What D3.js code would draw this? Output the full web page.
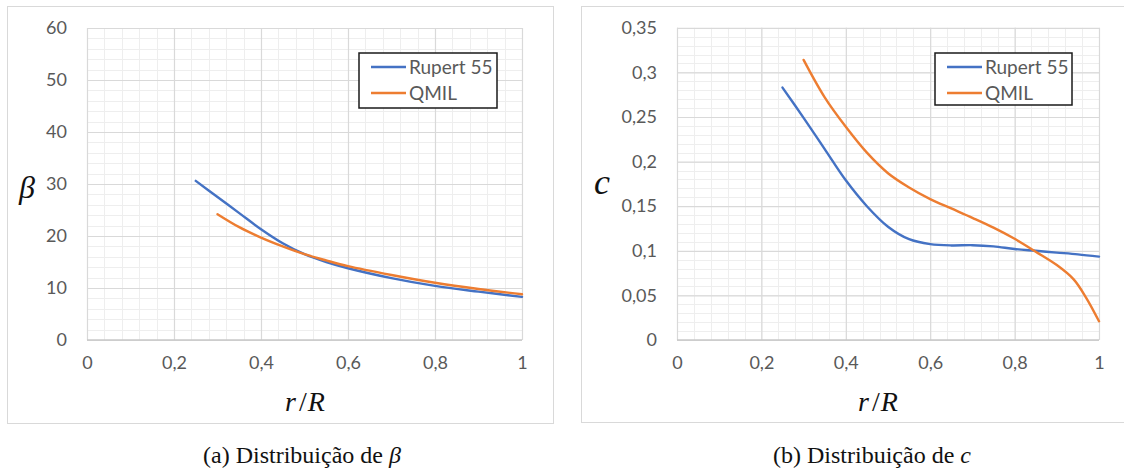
<!DOCTYPE html>
<html><head><meta charset="utf-8">
<script src="https://cdn.jsdelivr.net/npm/d3@7"></script>
<style>html,body{margin:0;padding:0;background:#fff;}svg{display:block;}</style>
</head><body>
<svg id="c" width="1124" height="473"></svg>
<script>
// ---- data ----
const xTicks = [0, 0.2, 0.4, 0.6, 0.8, 1];
const xTickLabels = ["0", "0,2", "0,4", "0,6", "0,8", "1"];
const betaTicks = [0, 10, 20, 30, 40, 50, 60];
const betaTickLabels = ["0", "10", "20", "30", "40", "50", "60"];
const cTicks = [0, 0.05, 0.1, 0.15, 0.2, 0.25, 0.3, 0.35];
const cTickLabels = ["0", "0,05", "0,1", "0,15", "0,2", "0,25", "0,3", "0,35"];
const seriesNames = ["Rupert 55", "QMIL"];

const betaRupertR = [0.25, 0.3, 0.35, 0.4, 0.45, 0.5, 0.55, 0.6, 0.7, 0.8, 0.9, 1.0];
const betaRupert  = [30.6, 27.5, 24.4, 21.3, 18.6, 16.5, 15.0, 13.8, 11.9, 10.4, 9.3, 8.3];
const betaQmilR   = [0.3, 0.35, 0.4, 0.45, 0.5, 0.55, 0.6, 0.7, 0.8, 0.9, 1.0];
const betaQmil    = [24.2, 21.7, 19.7, 18.0, 16.5, 15.3, 14.2, 12.5, 11.0, 9.8, 8.8];

const cRupertR = [0.25, 0.3, 0.35, 0.4, 0.45, 0.5, 0.55, 0.6, 0.65, 0.7, 0.75, 0.8, 0.85, 0.9, 0.95, 1.0];
const cRupert  = [0.283, 0.249, 0.214, 0.179, 0.150, 0.127, 0.113, 0.1075, 0.106, 0.1063, 0.105, 0.102, 0.100, 0.098, 0.096, 0.0935];
const cQmilR   = [0.3, 0.35, 0.4, 0.45, 0.5, 0.55, 0.6, 0.65, 0.7, 0.75, 0.8, 0.85, 0.9, 0.94, 0.97, 1.0];
const cQmil    = [0.314, 0.272, 0.239, 0.210, 0.187, 0.171, 0.158, 0.1475, 0.137, 0.126, 0.1135, 0.099, 0.084, 0.068, 0.047, 0.021];

const colors = ["#4472C4", "#ED7D31"];

const svg = d3.select("#c");

function drawChart(cfg) {
  const g = svg.append("g");
  // chart frame
  g.append("rect").attr("x", cfg.frame[0] + 0.5).attr("y", cfg.frame[1] + 0.5)
    .attr("width", cfg.frame[2] - cfg.frame[0]).attr("height", cfg.frame[3] - cfg.frame[1])
    .attr("fill", "#fff").attr("stroke", "#d9d9d9").attr("stroke-width", 1);

  const x = d3.scaleLinear().domain([0, 1]).range([cfg.plot[0], cfg.plot[1]]);
  const y = d3.scaleLinear().domain([0, cfg.yMax]).range([cfg.plot[3], cfg.plot[2]]);

  // minor grid
  const xMinor = d3.range(0, 1.0001, 0.04);
  const yMinor = d3.range(0, cfg.yMax * 1.0001, cfg.yMinorStep);
  g.append("g").selectAll("line").data(xMinor).join("line")
    .attr("x1", d => Math.round(x(d)) + 0.5).attr("x2", d => Math.round(x(d)) + 0.5)
    .attr("y1", y(cfg.yMax)).attr("y2", y(0))
    .attr("stroke", "#eeeeee").attr("stroke-width", 1);
  g.append("g").selectAll("line").data(yMinor).join("line")
    .attr("y1", d => Math.round(y(d)) + 0.5).attr("y2", d => Math.round(y(d)) + 0.5)
    .attr("x1", x(0)).attr("x2", x(1))
    .attr("stroke", "#eeeeee").attr("stroke-width", 1);

  // major grid via axes
  const gx = g.append("g").attr("transform", `translate(0,${y(0)})`)
    .call(d3.axisBottom(x).tickValues(xTicks).tickSize(-(y(0) - y(cfg.yMax)))
      .tickFormat((d, i) => xTickLabels[i]).tickPadding(16));
  const gy = g.append("g").attr("transform", `translate(${x(0)},0)`)
    .call(d3.axisLeft(y).tickValues(cfg.yTicks).tickSize(-(x(1) - x(0)))
      .tickFormat((d, i) => cfg.yTickLabels[i]).tickPadding(20));
  [gx, gy].forEach(a => {
    a.select(".domain").remove();
    a.selectAll(".tick line").attr("stroke", "#d9d9d9").attr("stroke-width", 1.2);
    a.selectAll(".tick text").attr("fill", "#595959")
      .style("font-family", "Lato, 'Open Sans', sans-serif").style("font-size", "18px");
  });
  // bottom axis line
  g.append("line").attr("x1", x(0)).attr("x2", x(1)).attr("y1", y(0)).attr("y2", y(0))
    .attr("stroke", "#c8c8c8").attr("stroke-width", 1.5);

  // series
  const line = d3.line().curve(d3.curveCatmullRom.alpha(0.5))
    .x(d => x(d[0])).y(d => y(d[1]));
  cfg.series.forEach((s, i) => {
    g.append("path").datum(d3.zip(s.r, s.v)).attr("d", line)
      .attr("fill", "none").attr("stroke", colors[i]).attr("stroke-width", 2.4)
      .attr("stroke-linecap", "round");
  });

  // legend
  const L = cfg.legend;
  const lg = g.append("g");
  lg.append("rect").attr("x", L[0]).attr("y", L[1]).attr("width", L[2] - L[0]).attr("height", L[3] - L[1])
    .attr("fill", "#fff").attr("stroke", "#1a1a1a").attr("stroke-width", 1.5);
  seriesNames.forEach((n, i) => {
    const yy = L[1] + 14 + i * 26;
    lg.append("line").attr("x1", L[0] + 12).attr("x2", L[0] + 47).attr("y1", yy).attr("y2", yy)
      .attr("stroke", colors[i]).attr("stroke-width", 2.4);
    lg.append("text").attr("x", L[0] + 50).attr("y", yy).attr("dy", "0.35em")
      .attr("fill", "#595959").style("font-family", "Lato, 'Open Sans', sans-serif")
      .style("font-size", "19px").text(n);
  });

  // y axis title
  g.append("text").attr("x", cfg.yTitlePos[0]).attr("y", cfg.yTitlePos[1])
    .attr("text-anchor", "middle").attr("dy", "0.35em")
    .style("font-family", "'Liberation Serif', 'DejaVu Serif', serif").style("font-style", "italic")
    .style("font-size", cfg.yTitleSize + "px").attr("fill", "#111").text(cfg.yTitle);

  // x axis title r/R
  const xt = g.append("text").attr("x", cfg.xTitleX).attr("y", 411)
    .attr("text-anchor", "middle")
    .style("font-family", "'Liberation Serif', 'DejaVu Serif', serif")
    .style("font-size", "28px").attr("fill", "#111");
  xt.append("tspan").style("font-style", "italic").text("r");
  xt.append("tspan").attr("dx", 3).text("/");
  xt.append("tspan").attr("dx", 1).style("font-style", "italic").text("R");

  // caption
  const cap = svg.append("text").attr("x", cfg.captionX).attr("y", 463).attr("text-anchor", "middle")
    .style("font-family", "'Liberation Serif', 'DejaVu Serif', serif").style("font-size", "24px")
    .attr("fill", "#111");
  cap.append("tspan").text(cfg.captionText);
  cap.append("tspan").style("font-style", "italic").text(cfg.captionSym);
}

drawChart({
  frame: [7, 6, 553, 423],
  plot: [87, 522, 28, 340],
  yMax: 60, yMinorStep: 2,
  yTicks: betaTicks, yTickLabels: betaTickLabels,
  series: [{ r: betaRupertR, v: betaRupert }, { r: betaQmilR, v: betaQmil }],
  legend: [359, 53, 497, 108],
  yTitle: "β", yTitlePos: [27, 187], yTitleSize: 32,
  xTitleX: 305,
  captionX: 302, captionText: "(a) Distribuição de ", captionSym: "β"
});

drawChart({
  frame: [581, 6, 1130, 422],
  plot: [677, 1099, 27.8, 340],
  yMax: 0.35, yMinorStep: 0.01,
  yTicks: cTicks, yTickLabels: cTickLabels,
  series: [{ r: cRupertR, v: cRupert }, { r: cQmilR, v: cQmil }],
  legend: [935, 53, 1072, 105],
  yTitle: "c", yTitlePos: [602, 181], yTitleSize: 36,
  xTitleX: 878,
  captionX: 872, captionText: "(b) Distribuição de ", captionSym: "c"
});
</script>
</body></html>
